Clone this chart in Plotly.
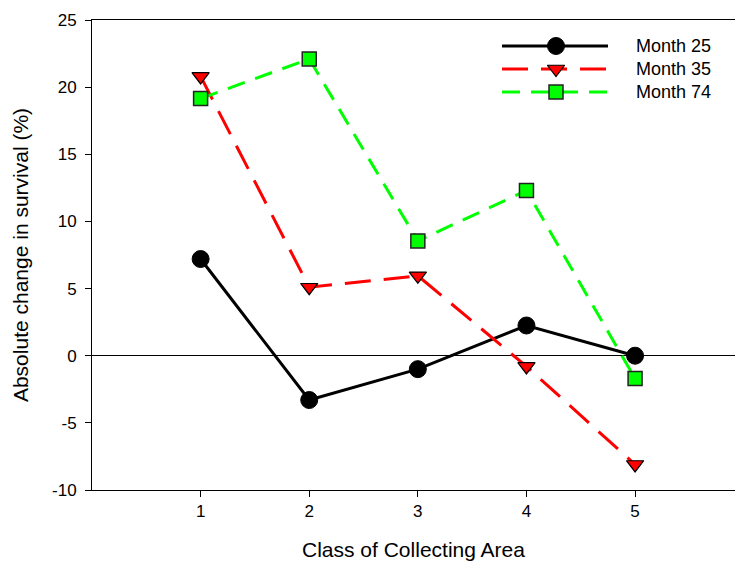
import plotly.graph_objects as go

classes = [1, 2, 3, 4, 5]
month25 = [7.2, -3.3, -1.0, 2.25, 0.0]
month35 = [20.8, 5.1, 5.95, -0.8, -8.1]
month74 = [19.15, 22.1, 8.55, 12.3, -1.7]
series_names = ["Month 25", "Month 35", "Month 74"]
y_ticks = [-10, -5, 0, 5, 10, 15, 20, 25]
y_tick_labels = ["-10", "-5", "0", "5", "10", "15", "20", "25"]
x_ticks = [1, 2, 3, 4, 5]

FONT = "Liberation Sans, Arial, sans-serif"

styles = [
    dict(line=dict(color="black", width=3),
         marker=dict(symbol="circle", size=17, color="black", line=dict(color="black", width=1))),
    dict(line=dict(color="#ff0000", width=3, dash="26px,13px"),
         marker=dict(symbol="triangle-down", size=15, color="#ff0000", line=dict(color="black", width=1.2))),
    dict(line=dict(color="#00ff00", width=3, dash="18px,11px"),
         marker=dict(symbol="square", size=14, color="#00ff00", line=dict(color="#222222", width=1.5))),
]

fig = go.Figure()
for name, vals, st in zip(series_names, [month25, month35, month74], styles):
    fig.add_trace(go.Scatter(x=classes, y=vals, mode="lines+markers", name=name,
                             line=st["line"], marker=st["marker"], showlegend=False,
                             cliponaxis=False))

# custom legend (overlay axes in pixel units of the plot area)
leg_y = [26, 49, 72]
for name, yy, st in zip(series_names, leg_y, styles):
    fig.add_trace(go.Scatter(x=[410, 516], y=[yy, yy], mode="lines", line=st["line"],
                             xaxis="x2", yaxis="y2", showlegend=False, hoverinfo="skip"))
    fig.add_trace(go.Scatter(x=[464], y=[yy], mode="markers", marker=st["marker"],
                             xaxis="x2", yaxis="y2", showlegend=False, hoverinfo="skip"))
    fig.add_annotation(x=542, y=yy, xref="x2", yref="y2", text=name, showarrow=False,
                       xanchor="left", yanchor="middle", font=dict(family=FONT, size=18, color="black"))

fig.update_layout(
    width=735, height=566,
    margin=dict(l=92, r=0, t=20, b=76),
    paper_bgcolor="white", plot_bgcolor="white",
    font=dict(family=FONT, size=17, color="black"),
    xaxis=dict(range=[0, 5.92], tickvals=x_ticks, ticks="outside", ticklen=6, tickwidth=1,
               tickcolor="black", showline=True, linecolor="black", linewidth=1, mirror=True,
               showgrid=False, zeroline=False, tickfont=dict(size=17),
               title=dict(text="Class of Collecting Area", font=dict(size=21), standoff=21)),
    yaxis=dict(range=[-10, 25], tickvals=y_ticks, ticktext=y_tick_labels, ticks="outside",
               ticklen=6, tickwidth=1, ticklabelstandoff=5,
               tickcolor="black", showline=True, linecolor="black", linewidth=1,
               showgrid=False, zeroline=True, zerolinecolor="black", zerolinewidth=1,
               tickfont=dict(size=17),
               title=dict(text="Absolute change in survival (%)", font=dict(size=21), standoff=17)),
    xaxis2=dict(overlaying="x", range=[0, 643], visible=False, fixedrange=True),
    yaxis2=dict(overlaying="y", range=[470, 0], visible=False, fixedrange=True),
)

fig.write_html("out.html")
